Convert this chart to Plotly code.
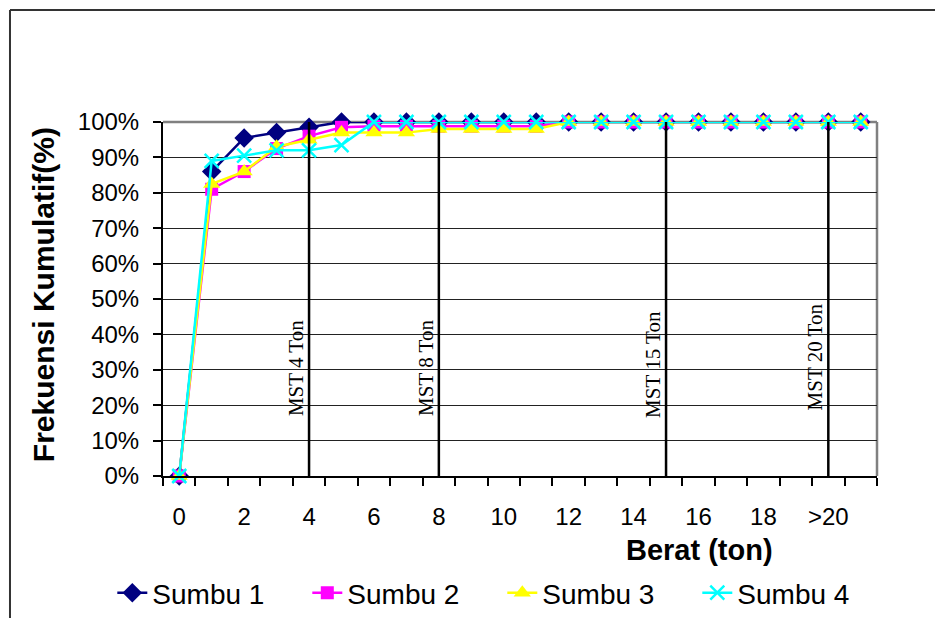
import plotly.graph_objects as go

categories = list(range(22))
tick_positions = [0, 2, 4, 6, 8, 10, 12, 14, 16, 18, 20]
tick_labels = ["0", "2", "4", "6", "8", "10", "12", "14", "16", "18", ">20"]

sumbu1 = [0, 86, 95.5, 97, 98.5, 100, 100, 100, 100, 100, 100, 100, 100, 100, 100, 100, 100, 100, 100, 100, 100, 100]
sumbu2 = [0, 81, 86, 92.5, 96, 98.5, 98.8, 98.8, 98.8, 98.8, 98.8, 98.8, 100, 100, 100, 100, 100, 100, 100, 100, 100, 100]
sumbu3 = [0, 82.5, 86, 93, 95, 97, 97, 97, 98, 98, 98, 98, 100, 100, 100, 100, 100, 100, 100, 100, 100, 100]
sumbu4 = [0, 89, 90.5, 92, 92, 93.5, 100, 100, 100, 100, 100, 100, 100, 100, 100, 100, 100, 100, 100, 100, 100, 100]

mst_positions = [4, 8, 15, 20]
mst_labels = ["MST 4 Ton", "MST 8 Ton", "MST 15 Ton", "MST 20 Ton"]
mst_label_y = [30.5, 30.5, 31.4, 33.6]

series = [
    ("Sumbu 1", sumbu1, "#000080", "diamond", 15),
    ("Sumbu 2", sumbu2, "#FF00FF", "square", 13),
    ("Sumbu 3", sumbu3, "#FFFF00", "triangle-up", 15),
    ("Sumbu 4", sumbu4, "#00FFFF", "x-thin", 14),
]

fig = go.Figure()
for name, vals, color, sym, size in series:
    marker = dict(symbol=sym, size=size, color=color)
    if sym == "x-thin":
        marker["line"] = dict(color=color, width=2.5)
    fig.add_trace(go.Scatter(
        x=categories, y=vals, name=name, mode="lines+markers",
        line=dict(color=color, width=2.5), marker=marker, cliponaxis=False,
    ))

shapes = []
for p in mst_positions:
    shapes.append(dict(type="line", xref="x", yref="y", x0=p, x1=p, y0=0, y1=100,
                       line=dict(color="black", width=2.5), layer="above"))
# plot area border (top and right grey)
shapes.append(dict(type="line", xref="paper", yref="paper", x0=0, x1=1, y0=1, y1=1,
                   line=dict(color="#808080", width=2.5), layer="below"))
shapes.append(dict(type="line", xref="paper", yref="paper", x0=1, x1=1, y0=0, y1=1,
                   line=dict(color="#808080", width=2.5), layer="below"))
# outer chart frame (cropped)
shapes.append(dict(type="line", xref="paper", yref="paper", x0=-0.2143, x1=1.2, y0=1.3164, y1=1.3164,
                   line=dict(color="#333333", width=2)))
shapes.append(dict(type="line", xref="paper", yref="paper", x0=-0.2143, x1=-0.2143, y0=1.3164, y1=-0.5,
                   line=dict(color="#333333", width=2)))

annotations = []
for p, lab, yy in zip(mst_positions, mst_labels, mst_label_y):
    annotations.append(dict(x=p, y=yy, xref="x", yref="y", text=lab, textangle=-90,
                            showarrow=False, xshift=-13, xanchor="center", yanchor="middle",
                            font=dict(family="Liberation Serif", size=21, color="black")))
annotations.append(dict(x=-0.168, y=0.511, xref="paper", yref="paper",
                        text="<b>Frekuensi Kumulatif(%)</b>", textangle=-90, showarrow=False,
                        xanchor="center", yanchor="middle",
                        font=dict(family="Liberation Sans", size=30, color="black")))
annotations.append(dict(x=0.752, y=-0.209, xref="paper", yref="paper",
                        text="<b>Berat (ton)</b>", showarrow=False,
                        xanchor="center", yanchor="middle",
                        font=dict(family="Liberation Sans", size=29, color="black")))

fig.update_layout(
    width=935, height=618,
    margin=dict(l=163, r=58, t=122, b=142, autoexpand=False),
    paper_bgcolor="white", plot_bgcolor="white",
    font=dict(family="Liberation Sans", color="black"),
    shapes=shapes, annotations=annotations,
    showlegend=True,
    legend=dict(orientation="h", x=-0.071, y=-0.3305, xanchor="left", yanchor="middle",
                font=dict(family="Liberation Sans", size=28, color="black"),
                entrywidth=150, entrywidthmode="pixels",
                bgcolor="rgba(0,0,0,0)"),
    xaxis=dict(range=[-0.5, 21.5], tickmode="array", tickvals=tick_positions, ticktext=tick_labels,
               ticks="", showgrid=False, zeroline=False, showline=True, linecolor="black", linewidth=2,
               ticklabelstandoff=18,
               tickfont=dict(size=24, family="Liberation Sans", color="black"),
               minor=dict(tick0=-0.5, dtick=1, ticks="outside", ticklen=8, tickcolor="black",
                          tickwidth=1.5, showgrid=False)),
    yaxis=dict(range=[0, 100], tickmode="array", tickvals=list(range(0, 101, 10)),
               ticktext=[f"{v}%" for v in range(0, 101, 10)],
               ticks="outside", ticklen=8, tickcolor="black", tickwidth=1.5,
               showgrid=True, gridcolor="#222222", gridwidth=1.2, zeroline=False,
               showline=True, linecolor="black", linewidth=2, ticklabelstandoff=9,
               tickfont=dict(size=24, family="Liberation Sans", color="black")),
)

fig.write_html("out.html")
